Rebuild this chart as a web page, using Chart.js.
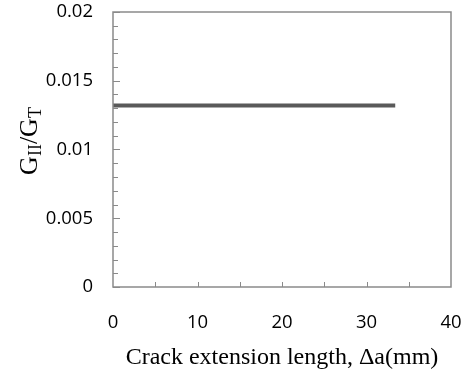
<!DOCTYPE html>
<html>
<head>
<meta charset="utf-8">
<script src="https://cdn.jsdelivr.net/npm/chart.js@4.4.1/dist/chart.umd.min.js"></script>
<style>
  html, body { margin: 0; padding: 0; background: #fff; }
  #wrap { width: 468px; height: 376px; }
</style>
</head>
<body>
<div id="wrap"><canvas id="ratioChart" width="468" height="376"></canvas></div>
<script>
// crack extension length (mm) and mode II ratio
const crackLength = [0, 33.4];
const ratioGII = [0.0132, 0.0132];
const yTicks = [0, 0.005, 0.01, 0.015, 0.02];
const xTicks = [0, 10, 20, 30, 40];
const xTitle = 'Crack extension length, \u0394a(mm)';

const axisGray = '#8a8a8a';
const tickFont = { family: '"Open Sans", sans-serif', size: 18.5 };

// frame, inner tick marks and the G_II/G_T title with subscripts
const framePlugin = {
  id: 'frame',
  afterDraw(chart) {
    const ctx = chart.ctx;
    const area = chart.chartArea;
    const xs = chart.scales.x;
    const ys = chart.scales.y;
    ctx.save();
    ctx.strokeStyle = axisGray;
    ctx.lineWidth = 1.5;
    ctx.strokeRect(area.left, area.top, area.right - area.left, area.bottom - area.top);

    ctx.lineWidth = 1;
    for (let v = 0; v <= 0.02 + 1e-9; v += 0.001) {
      const y = Math.round(ys.getPixelForValue(v)) + 0.5;
      const major = Math.abs(v / 0.005 - Math.round(v / 0.005)) < 1e-6;
      ctx.beginPath();
      ctx.moveTo(area.left, y);
      ctx.lineTo(area.left + (major ? 7 : 5), y);
      ctx.stroke();
    }
    for (let v = 5; v < 40; v += 5) {
      const x = Math.round(xs.getPixelForValue(v)) + 0.5;
      ctx.beginPath();
      ctx.moveTo(x, area.bottom);
      ctx.lineTo(x, area.bottom - 5);
      ctx.stroke();
    }

    // y axis title, rotated
    ctx.translate(37, 141);
    ctx.rotate(-Math.PI / 2);
    ctx.fillStyle = '#000';
    ctx.textBaseline = 'alphabetic';
    const big = '26px "Liberation Serif", "Times New Roman", serif';
    const small = '18px "Liberation Serif", "Times New Roman", serif';
    const parts = [['G', big, 0], ['II', small, 4], ['/G', big, 0], ['T', small, 4]];
    let total = 0;
    parts.forEach(p => { ctx.font = p[1]; total += ctx.measureText(p[0]).width; });
    let cx = -total / 2;
    parts.forEach(p => {
      ctx.font = p[1];
      ctx.fillText(p[0], cx, p[2]);
      cx += ctx.measureText(p[0]).width;
    });
    ctx.restore();
  }
};

document.addEventListener('DOMContentLoaded', function () {
  const canvas = document.getElementById('ratioChart');
  const ctx = canvas.getContext('2d');

  new Chart(ctx, {
    type: 'scatter',
    data: {
      datasets: [{
        label: 'GII/GT',
        data: crackLength.map((x, i) => ({ x: x, y: ratioGII[i] })),
        showLine: true,
        borderColor: '#5a5a5a',
        borderWidth: 4,
        pointRadius: 0,
        borderCapStyle: 'butt'
      }]
    },
    options: {
      responsive: false,
      animation: false,
      layout: { padding: { top: 12, right: 17, left: 0, bottom: 0 } },
      plugins: {
        legend: { display: false },
        tooltip: { enabled: false }
      },
      scales: {
        x: {
          type: 'linear',
          min: 0,
          max: 40,
          afterBuildTicks: scale => { scale.ticks = xTicks.map(v => ({ value: v })); },
          afterFit: scale => {
            scale.height = 89;
            scale.paddingLeft = 0;
            scale.paddingRight = 0;
          },
          grid: { display: false, drawTicks: false },
          border: { display: false },
          ticks: {
            color: '#000',
            padding: 25,
            maxRotation: 0,
            font: tickFont
          },
          title: {
            display: true,
            text: xTitle,
            color: '#000',
            padding: { top: 0, bottom: 4 },
            font: { family: '"Liberation Serif", "Times New Roman", serif', size: 24 }
          }
        },
        y: {
          min: 0,
          max: 0.02,
          afterBuildTicks: scale => { scale.ticks = yTicks.map(v => ({ value: v })); },
          afterFit: scale => {
            scale.width = 113;
            scale.paddingTop = 0;
            scale.paddingBottom = 0;
          },
          grid: { display: false, drawTicks: false },
          border: { display: false },
          ticks: {
            color: '#000',
            padding: 20,
            font: tickFont,
            callback: v => String(+v.toFixed(3))
          }
        }
      }
    },
    plugins: [framePlugin]
  });
});
</script>
</body>
</html>
